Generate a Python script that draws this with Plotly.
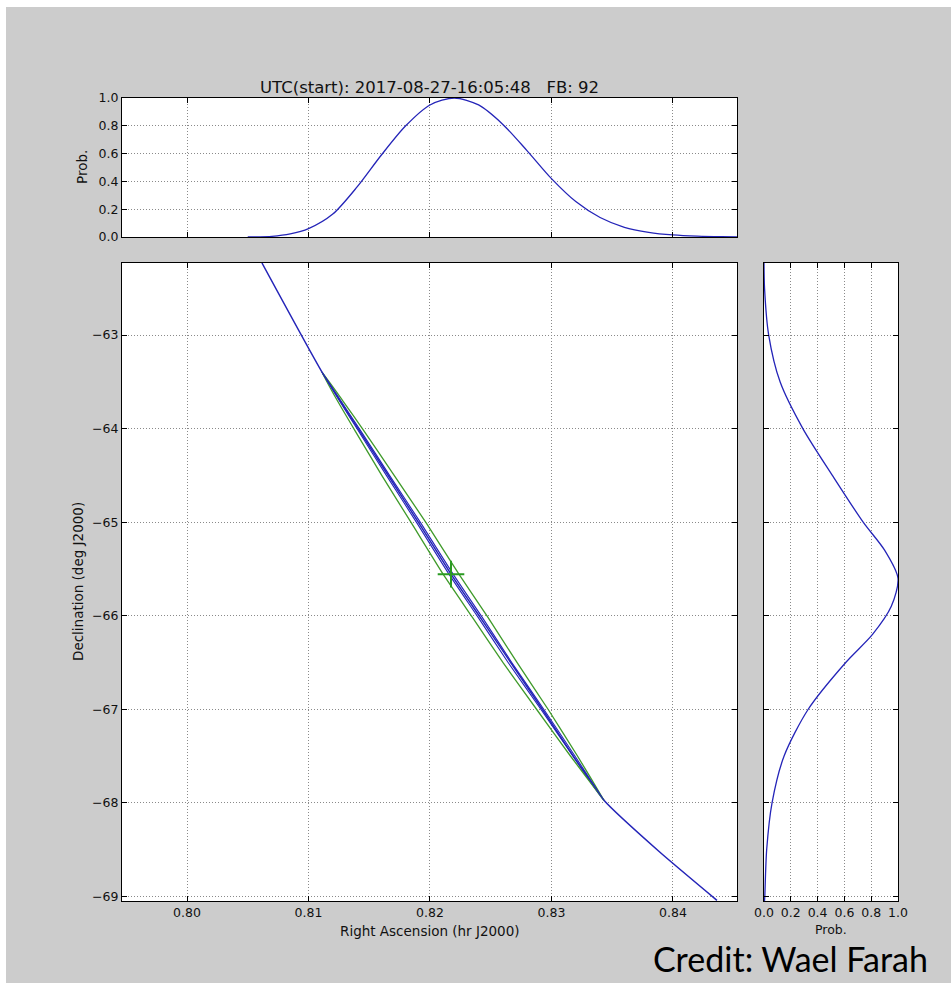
import plotly.graph_objects as go

# ---------------- data ----------------
# RA profile (top panel)
ra_prof = [0.8050, 0.8070, 0.8085, 0.8100, 0.8120, 0.8140, 0.8160, 0.8180, 0.8200,
           0.8220, 0.8240, 0.8260, 0.8280, 0.8300, 0.8320, 0.8340, 0.8360, 0.8380,
           0.8400, 0.8420, 0.8440, 0.8453]
prob_ra = [0.000, 0.005, 0.022, 0.060, 0.165, 0.360, 0.590, 0.800, 0.950,
           1.000, 0.950, 0.810, 0.620, 0.420, 0.255, 0.140, 0.070, 0.034,
           0.015, 0.006, 0.002, 0.001]

# Dec profile (right panel)
dec_prof = [-62.23, -62.5, -63.0, -63.5, -64.0, -64.5, -65.0, -65.3, -65.6, -65.9,
            -66.2, -66.5, -67.0, -67.5, -68.0, -68.5, -69.0, -69.05]
prob_dec = [0.000, 0.004, 0.035, 0.120, 0.290, 0.510, 0.740, 0.900, 1.000, 0.950,
            0.810, 0.610, 0.330, 0.150, 0.060, 0.020, 0.006, 0.004]

# fan-beam track (main panel)
track_ra = [0.80617, 0.81111, 0.81416, 0.81909, 0.82173, 0.82412,
            0.82930, 0.83432, 0.83893, 0.84362]
track_dec = [-62.23, -63.396, -64.016, -65.011, -65.556, -66.016,
             -67.011, -67.973, -68.529, -69.043]

# localisation contours (centre RA / Dec along the lens and half-widths in RA)
lens_dec = [-63.396, -63.70, -64.016, -64.50, -65.011, -65.556, -66.016, -66.50,
            -67.011, -67.50, -67.973]
lens_ra = [0.81111, 0.81259, 0.81416, 0.81654, 0.81909, 0.82173, 0.82412, 0.82658,
           0.82930, 0.83185, 0.83432]
green_hw = [0.0, 0.00022, 0.00036, 0.00051, 0.00061, 0.00065, 0.00064, 0.00058,
            0.00047, 0.00029, 0.0]
blue_hw = [0.0, 0.00006, 0.00010, 0.00013, 0.00016, 0.00017, 0.00017, 0.00015,
           0.00012, 0.00008, 0.0]

best_ra = [0.82173]
best_dec = [-65.556]

ra_ticks = [0.80, 0.81, 0.82, 0.83, 0.84]
ra_ticktext = ["0.80", "0.81", "0.82", "0.83", "0.84"]
dec_ticks = [-63, -64, -65, -66, -67, -68, -69]
dec_ticktext = ["\u221263", "\u221264", "\u221265", "\u221266", "\u221267", "\u221268", "\u221269"]
prob_ticks = [0.0, 0.2, 0.4, 0.6, 0.8, 1.0]
prob_ticktext = ["0.0", "0.2", "0.4", "0.6", "0.8", "1.0"]

title_text = "UTC(start): 2017-08-27-16:05:48   FB: 92"

# ---------------- styling ----------------
BLUE = "#2424b8"
GREEN = "#3f9a2a"
GRAY_BG = "#cccccc"
FONT = "DejaVu Sans"

OX, OY = 6, 7            # white page margin (left, top) in the reference
W, H = 951 - OX, 983 - OY
L = 122 - OX
T = 98 - OY
R = W - (898 - OX)
B = H - (901 - OY)
PW, PH = W - L - R, H - T - B


def px_x(px):
    return (px - OX - L) / PW


def px_y(py):
    return (H - B - (py - OY)) / PH


fig = go.Figure()

# main panel
fig.add_trace(go.Scatter(x=track_ra, y=track_dec, mode="lines",
                         line=dict(color=BLUE, width=1.5, shape="spline", smoothing=0.5),
                         xaxis="x", yaxis="y", hoverinfo="skip"))


def lens(hw):
    xs = [r - h for r, h in zip(lens_ra, hw)] + [r + h for r, h in zip(lens_ra[::-1], hw[::-1])]
    ys = list(lens_dec) + list(lens_dec[::-1])
    return xs, ys


gx, gy = lens(green_hw)
fig.add_trace(go.Scatter(x=gx, y=gy, mode="lines",
                         line=dict(color=GREEN, width=1.3, shape="spline", smoothing=0.5),
                         xaxis="x", yaxis="y", hoverinfo="skip"))
bx, by = lens(blue_hw)
fig.add_trace(go.Scatter(x=bx, y=by, mode="lines",
                         line=dict(color=BLUE, width=1.1, shape="spline", smoothing=0.5),
                         xaxis="x", yaxis="y", hoverinfo="skip"))
fig.add_trace(go.Scatter(x=best_ra, y=best_dec, mode="markers",
                         marker=dict(symbol="cross-thin", size=19,
                                     line=dict(color="#2a9a22", width=2)),
                         xaxis="x", yaxis="y", hoverinfo="skip"))

# top panel
fig.add_trace(go.Scatter(x=ra_prof, y=prob_ra, mode="lines",
                         line=dict(color=BLUE, width=1.3, shape="spline", smoothing=0.8),
                         xaxis="x2", yaxis="y2", hoverinfo="skip"))
# right panel
fig.add_trace(go.Scatter(x=prob_dec, y=dec_prof, mode="lines",
                         line=dict(color=BLUE, width=1.3, shape="spline", smoothing=0.8),
                         xaxis="x3", yaxis="y3", hoverinfo="skip"))

main_right = px_x(737)
right_left = px_x(764)
top_bottom = px_y(237)
main_top = px_y(263)

common = dict(showline=True, linecolor="black", linewidth=1.2, mirror="allticks",
              ticks="inside", ticklen=5, tickcolor="black", tickwidth=1,
              showgrid=True, gridcolor="#8a8a8a", griddash="1px,2px", gridwidth=1,
              zeroline=False, tickfont=dict(family=FONT, size=12.5, color="#111111"))

fig.update_layout(
    width=W, height=H,
    margin=dict(l=L, r=R, t=T, b=B, autoexpand=False),
    paper_bgcolor=GRAY_BG, plot_bgcolor="white",
    showlegend=False,
    font=dict(family=FONT, color="#111111"),
    xaxis=dict(domain=[0, main_right], range=[0.79465, 0.84527], anchor="y",
               tickvals=ra_ticks, ticktext=ra_ticktext, **common),
    yaxis=dict(domain=[0, main_top], range=[-69.05, -62.23], anchor="x",
               tickvals=dec_ticks, ticktext=dec_ticktext, **common),
    xaxis2=dict(domain=[0, main_right], range=[0.79465, 0.84527], anchor="y2",
                matches="x", tickvals=ra_ticks, showticklabels=False, **common),
    yaxis2=dict(domain=[top_bottom, 1], range=[0, 1], anchor="x2",
                tickvals=prob_ticks, ticktext=prob_ticktext, **common),
    xaxis3=dict(domain=[right_left, 1], range=[0, 1], anchor="y3",
                tickvals=prob_ticks, ticktext=prob_ticktext, **common),
    yaxis3=dict(domain=[0, main_top], range=[-69.05, -62.23], anchor="x3",
                matches="y", tickvals=dec_ticks, showticklabels=False, **common),
)

ann = [
    dict(text=title_text, x=main_right / 2, y=px_y(88), font=dict(size=16.5)),
    dict(text="Right Ascension (hr J2000)", x=main_right / 2, y=px_y(931), font=dict(size=13.5)),
    dict(text="Prob.", x=px_x(831), y=px_y(930), font=dict(size=12.5)),
    dict(text="Declination (deg J2000)", x=px_x(78), y=px_y(582), textangle=-90, font=dict(size=13.5)),
    dict(text="Prob.", x=px_x(82), y=px_y(167), textangle=-90, font=dict(size=13.5)),
]
for a in ann:
    fig.add_annotation(xref="paper", yref="paper", showarrow=False,
                       xanchor="center", yanchor="middle", **a)
fig.add_annotation(text="Credit: Wael Farah", xref="paper", yref="paper",
                   x=px_x(930), y=px_y(981), xanchor="right", yanchor="bottom",
                   showarrow=False, font=dict(family="Lato", size=34, color="black"))

fig.write_html("out.html",
               post_script="document.body.style.margin='%dpx 0 0 %dpx';"
                           "document.body.style.background='white';" % (OY, OX))
